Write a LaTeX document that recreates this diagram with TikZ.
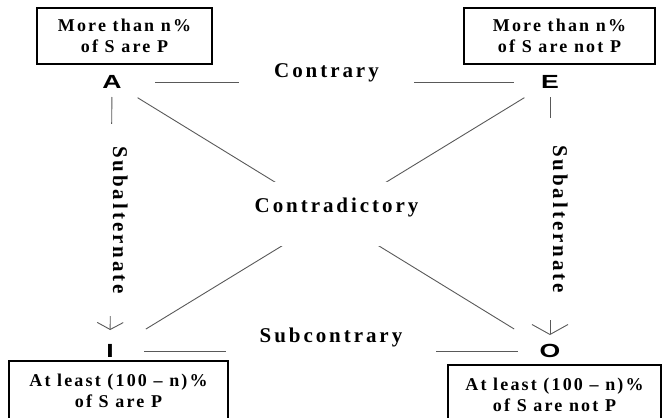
\documentclass[tikz,border=0pt]{standalone}
\usepackage{fontspec}
\setmainfont{Liberation Serif}
\newfontfamily\boxfont{Liberation Serif}[LetterSpace=12]
\newfontfamily\relfont{Liberation Serif}[LetterSpace=14]
\newfontfamily\cornerfont{Liberation Sans}[FakeStretch=1.4]
\usetikzlibrary{arrows.meta}

\begin{document}
\begin{tikzpicture}[x=1pt,y=-1pt]
	\tikzset{
		propbox/.style={draw,line width=1.2pt,align=center,inner sep=0pt,font=\boxfont\bfseries\fontsize{18}{21}\selectfont},
		corner/.style={inner sep=0pt,font=\cornerfont\bfseries\fontsize{19}{19}\selectfont},
		relation/.style={fill=white,inner ysep=0pt,anchor=base,font=\relfont\bfseries\fontsize{21}{21}\selectfont},
		link/.style={draw=black!65,line width=0.9pt}
	}
	\useasboundingbox (0,0) rectangle (662,418);
	\node[propbox,minimum width=175pt,minimum height=56pt] (boxA) at (124.5,36) {More than n\%\\of S are P};
	\node[propbox,minimum width=191pt,minimum height=56pt] (boxE) at (559.5,36) {More than n\%\\of S are not P};
	\node[propbox,minimum width=219pt,minimum height=60pt] (boxI) at (118.5,391) {At least (100 – n)\%\\of S are P};
	\node[propbox,minimum width=213pt,minimum height=60pt] (boxO) at (554.5,395) {At least (100 – n)\%\\of S are not P};
	\node[corner] (A) at (112,82) {A};
	\node[corner] (E) at (550,82) {E};
	\node[corner] (I) at (110,351) {I};
	\node[corner] (O) at (550,351) {O};
	\draw[link,shorten <=43pt,shorten >=36pt] (A.center) -- (E.center);
	\draw[link,shorten <=34pt,shorten >=32pt] (I.center) -- (O.center);
	\draw[link,shorten <=30pt,shorten >=42pt] (A.center) -- (O.center);
	\draw[link,shorten <=30pt,shorten >=42pt] (E.center) -- (I.center);
	\draw[link,-{Straight Barb[length=7pt,width=26pt]},shorten <=15pt,shorten >=21pt] (A.center) -- (I.center);
	\draw[link,-{Straight Barb[length=10pt,width=36pt]},shorten <=15pt,shorten >=16pt] (E.center) -- (O.center);
	\node[relation,inner xsep=35pt,text depth=8pt] (contrary) at (326.5,77) {Contrary};
	\node[relation,inner xsep=34pt,text depth=12pt] (subcontrary) at (331,342) {Subcontrary};
	\node[relation,inner xsep=2pt,text height=30pt,text depth=34pt] (contradictory) at (336.5,212) {Contradictory};
	\node[relation,rotate=-90,inner xsep=22pt,text depth=5pt] (subleft) at (113,220) {Subalternate};
	\node[relation,rotate=-90,inner xsep=27pt,text depth=5pt] (subright) at (553,219) {Subalternate};
\end{tikzpicture}
\end{document}
